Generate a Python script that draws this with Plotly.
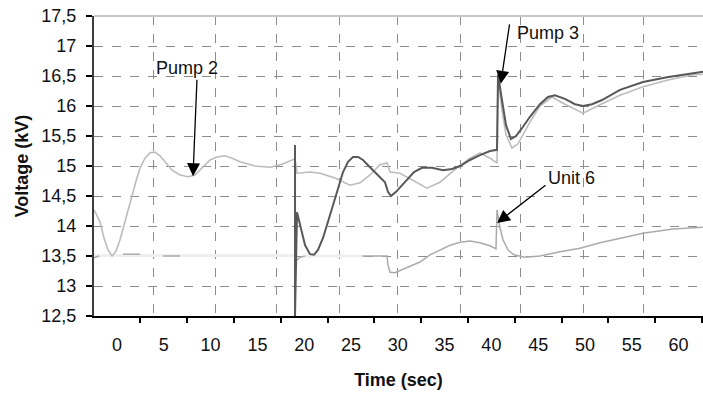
import plotly.graph_objects as go

# ---- Bus voltage traces (time in s, voltage in kV) ----
# Light trace: first pump bus, then continues after the switching event
bus_a_t = [-2.46, -1.82, -1.39, -0.96, -0.53, -0.11, 0.32, 0.75, 1.18, 1.60, 2.03, 2.46,
           2.99, 3.53, 4.06, 4.59, 5.24, 5.88, 6.73, 7.59, 8.33, 9.08, 9.94, 10.68,
           11.54, 12.29, 13.14, 14.74, 16.35, 17.63, 19.02,
           19.23, 20.62, 21.69, 23.29, 24.89, 25.96, 27.03, 28.10, 28.85, 29.17, 30.24,
           31.52, 33.12, 34.51, 36.32, 37.71, 38.78, 39.85, 40.60,
           40.71, 41.13, 41.56, 42.20, 42.84, 44.12, 45.19, 46.47, 47.86, 49.79,
           51.60, 53.74, 56.20, 58.76, 61.54, 62.61]
bus_a_v = [14.27, 14.07, 13.80, 13.60, 13.50, 13.58, 13.77, 14.00, 14.25, 14.50, 14.75, 14.97,
           15.13, 15.22, 15.23, 15.17, 15.05, 14.93, 14.85, 14.82, 14.85, 14.97, 15.10, 15.15,
           15.17, 15.13, 15.07, 15.00, 14.98, 15.03, 15.12,
           14.88, 14.90, 14.88, 14.80, 14.68, 14.72, 14.85, 15.02, 15.05, 14.90, 14.88,
           14.77, 14.63, 14.73, 14.97, 15.13, 15.22, 15.13, 15.05,
           16.43, 15.93, 15.52, 15.30, 15.37, 15.73, 16.00, 16.15, 16.03, 15.88,
           16.02, 16.18, 16.32, 16.43, 16.52, 16.53]

# Dark trace: bus energised at ~19 s
bus_b_t = [19.02, 19.02, 19.23, 19.66, 20.09, 20.62, 21.05, 21.47, 22.01, 22.54, 23.08,
           23.61, 24.15, 24.68, 25.21, 25.75, 26.28, 27.03, 27.88, 28.63, 28.95, 29.27,
           29.81, 30.77, 31.73, 32.59, 33.65, 34.83, 35.79, 36.65, 37.71, 38.78, 39.85,
           40.60, 40.71, 41.13, 41.56, 42.09, 42.63, 43.27, 44.12, 45.19, 46.05, 46.79,
           47.86, 48.93, 49.79, 50.75, 51.82, 53.74, 56.20, 58.76, 61.54, 62.61]
bus_b_v = [15.35, 12.50, 14.23, 13.93, 13.68, 13.53, 13.52, 13.60, 13.80, 14.07, 14.35,
           14.63, 14.90, 15.07, 15.15, 15.15, 15.10, 14.98, 14.85, 14.73, 14.57, 14.50,
           14.57, 14.73, 14.90, 14.97, 14.97, 14.93, 14.95, 15.00, 15.10, 15.18, 15.25,
           15.27, 16.52, 16.10, 15.68, 15.45, 15.50, 15.63, 15.82, 16.03, 16.15, 16.18,
           16.12, 16.03, 16.00, 16.03, 16.10, 16.27, 16.40, 16.48, 16.55, 16.57]

# Unit 6 bus
unit6_t = [-2.46, -1.90, None, 0.64, 2.46, None, 4.91, 6.73, None,
           19.02, 19.55, 20.09, None, 26.18, 28.85, 28.95, 29.17, 29.70, 31.30, 32.37,
           33.44, 34.51, 35.58, 36.65, 37.71, 38.78, 39.85, 40.49, 40.60, 40.92, 41.24,
           41.77, 42.41, 43.59, 45.19, 47.33, 49.47, 51.60, 53.74, 56.20, 59.40, 62.61]
unit6_v = [13.47, 13.50, None, 13.53, 13.53, None, 13.50, 13.50, None,
           13.40, 13.48, 13.50, None, 13.50, 13.50, 13.35, 13.23, 13.22, 13.32, 13.40,
           13.52, 13.60, 13.68, 13.73, 13.75, 13.72, 13.67, 13.62, 14.27, 13.97, 13.77,
           13.60, 13.52, 13.48, 13.50, 13.57, 13.63, 13.72, 13.80, 13.88, 13.95, 13.98]

# Faint base level of the unit 6 bus
unit6_base_t = [-2.46, 19.02, None, 20.09, 26.18]
unit6_base_v = [13.51, 13.51, None, 13.50, 13.50]

# Axis ticks
x_label_vals = list(range(0, 61, 5))
x_mark_vals = [v - 2.5 for v in range(0, 66, 5)]
x_grid_vals = [3.95, 10.48, 17.09, 23.72, 30.02, 36.65, 43.16, 49.79, 56.2]
y_range = [12.5, 17.5]
x_range = [-2.46, 62.61]

FONT = "Liberation Sans, Arial, sans-serif"

fig = go.Figure()
fig.add_trace(go.Scatter(x=unit6_base_t, y=unit6_base_v, mode="lines",
                         line=dict(color="#efefef", width=3), hoverinfo="skip"))
fig.add_trace(go.Scatter(x=unit6_t, y=unit6_v, mode="lines",
                         line=dict(color="#ababab", width=1.5), connectgaps=False))
fig.add_trace(go.Scatter(x=bus_a_t, y=bus_a_v, mode="lines",
                         line=dict(color="#bcbcbc", width=1.6)))
fig.add_trace(go.Scatter(x=bus_b_t, y=bus_b_v, mode="lines",
                         line=dict(color="#585858", width=2)))
# helper traces so the overlay axes (tick marks / vertical grid) are drawn
fig.add_trace(go.Scatter(x=[0], y=[15], xaxis="x2", mode="lines", hoverinfo="skip"))
fig.add_trace(go.Scatter(x=[0], y=[15], xaxis="x3", mode="lines", hoverinfo="skip"))

grid = dict(gridcolor="#8c8c8c", griddash="dash", gridwidth=1)

fig.update_layout(
    width=703, height=394,
    margin=dict(l=94, r=0, t=16, b=78),
    paper_bgcolor="white", plot_bgcolor="white",
    showlegend=False,
    separators=", ",
    font=dict(family=FONT, size=18, color="#111111"),
    xaxis=dict(range=x_range, tickvals=x_label_vals, ticks="", showgrid=False,
               zeroline=False, showline=True, linecolor="#000000", linewidth=2,
               ticklabelstandoff=11,
               title=dict(text="<b>Time (sec)</b>", standoff=20,
                          font=dict(size=18, family=FONT))),
    xaxis2=dict(range=x_range, overlaying="x", anchor="y", side="bottom",
                tickvals=x_mark_vals, ticks="outside", ticklen=6, tickwidth=1.5,
                tickcolor="#000000", showticklabels=False, showgrid=False,
                zeroline=False, showline=False),
    xaxis3=dict(range=x_range, overlaying="x", anchor="y", side="bottom",
                tickvals=x_grid_vals, ticks="", showticklabels=False,
                showgrid=True, zeroline=False, showline=False, **grid),
    yaxis=dict(range=y_range, tick0=12.5, dtick=0.5, ticks="outside", ticklen=6,
               tickwidth=1.5, tickcolor="#000000", showline=True,
               linecolor="#3c3c3c", linewidth=2, zeroline=False,
               ticklabelstandoff=6, showgrid=True, **grid,
               title=dict(text="<b>Voltage (kV)</b>", standoff=8,
                          font=dict(size=18, family=FONT))),
    shapes=[dict(type="line", xref="paper", yref="paper", x0=0, x1=1, y0=1, y1=1,
                 line=dict(color="#c8c8c8", width=2))],
)

arrow = dict(showarrow=True, arrowhead=2, arrowsize=2, arrowwidth=1.3,
             arrowcolor="#000000", text="", axref="pixel", ayref="pixel")
fig.add_annotation(x=8.12, y=14.83, ax=4, ay=-98, **arrow)
fig.add_annotation(x=41.0, y=16.37, ax=9, ay=-61, **arrow)
fig.add_annotation(x=40.6, y=14.05, ax=50, ay=-39, **arrow)

label = dict(showarrow=False, font=dict(size=18, family=FONT, color="#111111"))
fig.add_annotation(x=7.48, y=16.63, text="Pump 2", **label)
fig.add_annotation(x=46.05, y=17.22, text="Pump 3", **label)
fig.add_annotation(x=48.6, y=14.80, text="Unit 6", **label)

fig.write_html("out.html")
